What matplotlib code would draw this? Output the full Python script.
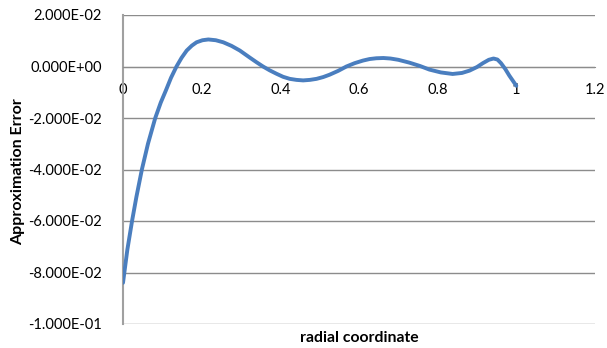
import numpy as np
import matplotlib
matplotlib.use("Agg")
import matplotlib.pyplot as plt
from matplotlib.ticker import FuncFormatter

# values
radial = [0.0, 0.011, 0.023, 0.034, 0.048, 0.0635, 0.082, 0.096, 0.109, 0.122, 0.136,
          0.149, 0.162, 0.175, 0.187, 0.202, 0.217, 0.236, 0.255, 0.276, 0.297, 0.322,
          0.340, 0.356, 0.373, 0.390, 0.407, 0.424, 0.441, 0.458, 0.475, 0.492, 0.509,
          0.525, 0.547, 0.568, 0.589, 0.610, 0.627, 0.644, 0.662, 0.680, 0.700, 0.728,
          0.755, 0.779, 0.808, 0.838, 0.862, 0.881, 0.900, 0.915, 0.930, 0.942, 0.952,
          0.961, 0.972, 0.982, 0.991, 1.0]
error = [-0.0840, -0.0712, -0.0600, -0.0507, -0.0400, -0.0300, -0.0200, -0.0140, -0.0093, -0.0044, 0.0000,
         0.0034, 0.0062, 0.0081, 0.0094, 0.0102, 0.0105, 0.0102, 0.0094, 0.0080, 0.0062, 0.0035,
         0.0016, 0.0000, -0.0015, -0.0028, -0.0040, -0.0048, -0.0052, -0.0054, -0.0052, -0.0048, -0.0041,
         -0.0032, -0.0017, 0.0000, 0.0013, 0.0023, 0.0029, 0.0032, 0.0033, 0.0031, 0.0026, 0.0015,
         0.0002, -0.0012, -0.0023, -0.0029, -0.0025, -0.0016, -0.0002, 0.0013, 0.0026, 0.0031, 0.0027,
         0.0013, -0.0010, -0.0035, -0.0055, -0.0075]

x_ticks = [0, 0.2, 0.4, 0.6, 0.8, 1.0, 1.2]
y_ticks = [-0.1, -0.08, -0.06, -0.04, -0.02, 0.0, 0.02]

plt.rcParams['font.family'] = ['Lato', 'DejaVu Sans']

fig = plt.figure(figsize=(6.07, 3.48), dpi=100)
ax = fig.add_axes([123 / 607, 1 - 324 / 348, (595 - 123) / 607, (324 - 15) / 348])

ax.plot(radial, error, color='#4A7EBF', lw=2.8, solid_capstyle='round', solid_joinstyle='round', zorder=3)

ax.set_xlim(0, 1.2)
ax.set_ylim(-0.1, 0.02)
ax.set_xticks(x_ticks)
ax.set_yticks(y_ticks)
ax.xaxis.set_major_formatter(FuncFormatter(lambda v, p: f"{v:g}"))
ax.yaxis.set_major_formatter(FuncFormatter(lambda v, p: f"{(v if abs(v) > 1e-12 else 0.0):.3E}"))

ax.grid(axis='y', color='#8c8c8c', lw=1.0, zorder=1)
ax.set_axisbelow(True)

for s in ['top', 'right']:
    ax.spines[s].set_visible(False)
ax.spines['bottom'].set_position(('data', 0))
ax.spines['bottom'].set_color('#8c8c8c')
ax.spines['left'].set_color('#a0a0a0')
ax.spines['left'].set_linewidth(1.5)

ax.tick_params(axis='x', length=0, pad=12, labelsize=10.5, colors='black')
ax.tick_params(axis='y', length=0, pad=15, labelsize=10.5, colors='black')

fig.text(359 / 607, 1 - 338 / 348, 'radial coordinate', ha='center', va='center',
         fontsize=11.3, fontweight='bold')
fig.text(18 / 607, 1 - 172 / 348, 'Approximation Error', ha='center', va='center',
         rotation=90, fontsize=11.5, fontweight='bold')

fig.savefig('out.png', dpi=100)
